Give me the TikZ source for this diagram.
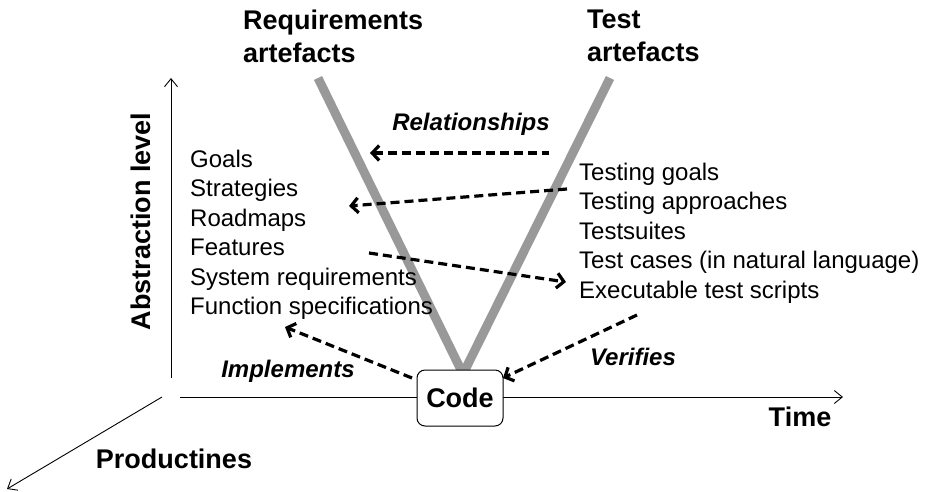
\documentclass[tikz,border=0pt]{standalone}
\usepackage{fontspec}
\setmainfont{Liberation Sans}
\usetikzlibrary{arrows.meta, calc}

\begin{document}
\begin{tikzpicture}[x=1pt, y=-1pt,
    axis/.style={line width=0.9pt, -{Straight Barb[length=8pt, width=13pt]}},
    vline/.style={line width=9pt, draw=black!40},
    rel/.style={line width=3.2pt, dash pattern=on 9pt off 5pt, -{Straight Barb[length=7pt, width=15pt]}},
    biglabel/.style={font=\bfseries\fontsize{27}{33}\selectfont, inner sep=0},
    listtext/.style={font=\fontsize{24}{29.5}\selectfont, align=left, inner sep=0, anchor=north west},
    edgelabel/.style={font=\bfseries\itshape\fontsize{24}{29}\selectfont, inner sep=0, anchor=base}]

  \useasboundingbox (0,0) rectangle (927,491);

  \coordinate (O) at (171,397);
  \coordinate (ytop) at (171,78);
  \coordinate (ybot) at (171,378);
  \coordinate (xleft) at (180,397);
  \coordinate (xright) at (843,397);
  \coordinate (zstart) at (162,397);
  \coordinate (zend) at (7,489);
  \coordinate (reqtop) at (318,78);
  \coordinate (testtop) at (610,78);
  \coordinate (vtip) at (463,374);

  % axes
  \draw[axis] (ybot) -- (ytop);
  \draw[axis] (xleft) -- (xright);
  \draw[axis] (zstart) -- (zend);

  % the V
  \draw[vline] (reqtop) -- (vtip);
  \draw[vline] (testtop) -- (vtip);

  \node[draw, fill=white, line width=1pt, rounded corners=8pt, minimum width=86pt,
        minimum height=56pt, font=\bfseries\fontsize{27}{33}\selectfont] (code) at (460,398) {Code};

  \node[biglabel, align=left, anchor=north west] (req) at (243,9.7) {Requirements\\artefacts};
  \node[biglabel, align=left, anchor=north west] (test) at (587,9.7) {Test\\artefacts};

  \node[listtext] (reqlist) at (190,149.8)
    {Goals\\Strategies\\Roadmaps\\Features\\System requirements\\Function specifications};
  \node[listtext] (testlist) at (579,162.8)
    {Testing goals\\Testing approaches\\Testsuites\\Test cases (in natural language)\\Executable test scripts};

  \node[biglabel, rotate=90] (abs) at (141,221.5) {Abstraction level};
  \node[biglabel, anchor=base] (time) at (800,426) {Time};
  \node[biglabel, anchor=base] (prod) at (174,468) {Productines};

  % relationships
  \coordinate (relL) at (370,153);
  \coordinate (relR) at (549,153);
  \coordinate (strR) at (567,189);
  \coordinate (strL) at (349,206);
  \coordinate (featL) at (369,253);
  \coordinate (featR) at (566,282);
  \coordinate (implA) at (412,378);
  \coordinate (implB) at (285,327);
  \coordinate (verA) at (637,315);
  \coordinate (verB) at (503,378);

  \draw[rel, {Straight Barb[length=7pt, width=15pt]}-] (relL) -- (relR);
  \draw[rel] (strR) -- (strL);
  \draw[rel] (featL) -- (featR);
  \draw[rel] (implA) -- (implB);
  \draw[rel] (verA) -- (verB);

  \node[edgelabel] (relname) at (471,130) {Relationships};
  \node[edgelabel] (implname) at (288,377) {Implements};
  \node[edgelabel] (vername) at (633,365) {Verifies};

\end{tikzpicture}
\end{document}
